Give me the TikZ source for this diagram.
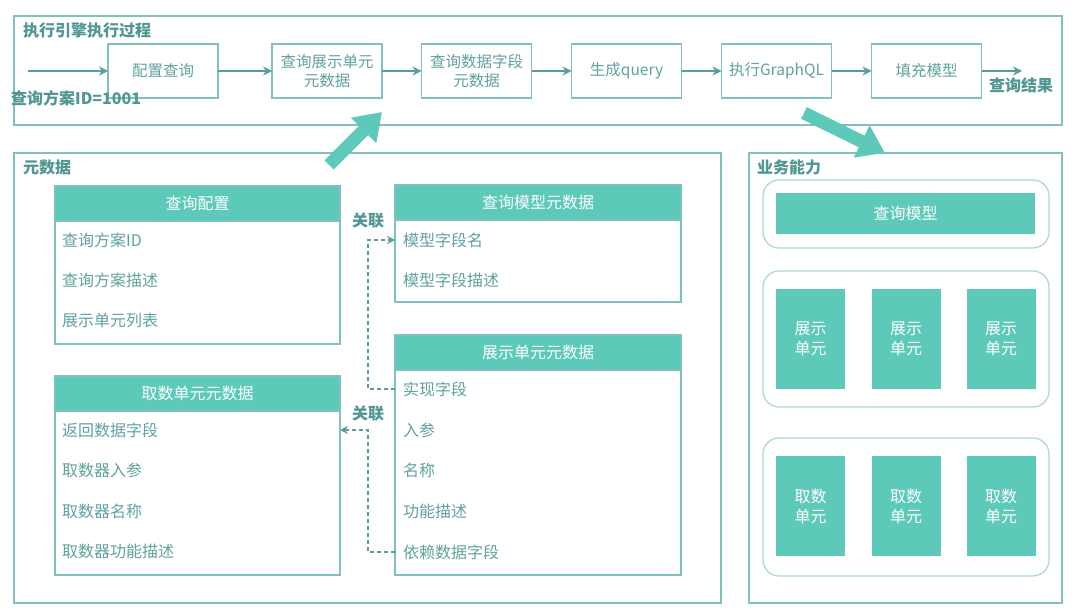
\documentclass[tikz,border=0pt]{standalone}
\usepackage{fontspec}
\setmainfont{Noto Sans CJK SC}
\usetikzlibrary{arrows.meta,positioning}
\definecolor{lc}{RGB}{128,192,189}
\definecolor{lc2}{RGB}{170,214,212}
\definecolor{tc}{RGB}{96,162,159}
\definecolor{ttl}{RGB}{80,150,147}
\definecolor{fc}{RGB}{92,201,185}
\definecolor{ac}{RGB}{88,158,155}
\begin{document}
\begin{tikzpicture}[x=1pt,y=-1pt,
  font=\fontsize{16}{19}\selectfont,
  frame/.style={draw=lc,line width=1.5pt},
  proc/.style={draw=lc,line width=1.3pt,minimum width=110pt,minimum height=54pt,inner sep=0pt,outer sep=0pt,text=tc,align=center,font=\fontsize{15.5}{18.5}\selectfont},
  flow/.style={draw=ac,line width=1.1pt,-{Stealth[length=9pt,width=9pt]}},
  hdr/.style={draw=lc,line width=1.2pt,fill=fc,text=white,inner sep=0pt,outer sep=0pt,minimum height=35pt},
  tbody/.style={draw=lc,line width=1.2pt,inner sep=0pt,outer sep=0pt},
  row/.style={anchor=west,text=tc,inner sep=0pt},
  ttlstyle/.style={anchor=west,text=ttl,font=\fontsize{16}{19}\selectfont\bfseries,inner sep=0pt},
  rel/.style={draw=ac,line width=1.1pt,dash pattern=on 4pt off 3pt},
  grp/.style={draw=lc2,line width=1.2pt,rounded corners=16pt},
  unit/.style={fill=fc,text=white,inner sep=0pt,align=center,font=\fontsize{16}{20}\selectfont},
  big/.style={draw=fc,line width=13pt,-{Triangle[length=26pt,width=34pt]}}
]
\useasboundingbox (0,0) rectangle (1080,615);
\fill[white] (0,0) rectangle (1080,615);

% ---------- top frame ----------
\draw[frame] (14,16) rectangle (1062,125);
\node[ttlstyle] (t1) at (23,30) {执行引擎执行过程};

\node[proc] (p1) at (163,71) {配置查询};
\node[proc] (p2) at (327,71) {查询展示单元\\元数据};
\node[proc] (p3) at (476.5,71) {查询数据字段\\元数据};
\node[proc] (p4) at (626.5,71) {生成query};
\node[proc] (p5) at (776.5,71) {执行GraphQL};
\node[proc] (p6) at (926.5,71) {填充模型};
\coordinate (st) at (28,71);
\coordinate (en) at (1022,71);
\draw[flow] (st) -- (p1);
\draw[flow] (p1) -- (p2);
\draw[flow] (p2) -- (p3);
\draw[flow] (p3) -- (p4);
\draw[flow] (p4) -- (p5);
\draw[flow] (p5) -- (p6);
\draw[flow] (p6) -- (en);
\node[ttlstyle] (idl) at (11,98) {查询方案ID=1001};
\node[ttlstyle] (res) at (989,85) {查询结果};

% ---------- metadata frame ----------
\draw[frame] (14,153) rectangle (721,603);
\node[ttlstyle] (t2) at (23,167) {元数据};

% 查询配置
\node[hdr,minimum width=285pt] (qch) at (197.5,203.5) {查询配置};
\node[tbody,minimum width=285pt,minimum height=123pt,below=0pt of qch] (qcb) {};
\node[row] (qc1) at (62,240) {查询方案ID};
\node[row] (qc2) at (62,280) {查询方案描述};
\node[row] (qc3) at (62,320) {展示单元列表};

% 查询模型元数据
\node[hdr,minimum width=286pt] (mh) at (538,202.5) {查询模型元数据};
\node[tbody,minimum width=286pt,minimum height=82pt,below=0pt of mh] (mb) {};
\node[row] (m1) at (403,240) {模型字段名};
\node[row] (m2) at (403,280) {模型字段描述};

% 展示单元元数据
\node[hdr,minimum width=286pt] (sh) at (538,352.5) {展示单元元数据};
\node[tbody,minimum width=286pt,minimum height=205pt,below=0pt of sh] (sb) {};
\node[row] (s1) at (403,389) {实现字段};
\node[row] (s2) at (403,430) {入参};
\node[row] (s3) at (403,470) {名称};
\node[row] (s4) at (403,511) {功能描述};
\node[row] (s5) at (403,552) {依赖数据字段};

% 取数单元元数据
\node[hdr,minimum width=285pt] (fh) at (197.5,393.5) {取数单元元数据};
\node[tbody,minimum width=285pt,minimum height=164pt,below=0pt of fh] (fb) {};
\node[row] (f1) at (62,430) {返回数据字段};
\node[row] (f2) at (62,470) {取数器入参};
\node[row] (f3) at (62,511) {取数器名称};
\node[row] (f4) at (62,551) {取数器功能描述};

% relations
\draw[rel,-{Stealth[length=8pt,width=8pt]}] (s1 -| sb.west) -- ++(-27,0) |- (m1 -| mb.west);
\draw[rel,-{Stealth[length=8pt,width=8pt]}] (s5 -| sb.west) -- ++(-27,0) |- (f1 -| fb.east);
\node[ttlstyle,anchor=center] (r1) at (368,221) {关联};
\node[ttlstyle,anchor=center] (r2) at (368,414) {关联};

% ---------- business frame ----------
\draw[frame] (749,153) rectangle (1062,603);
\node[ttlstyle] (t3) at (757,167) {业务能力};

\node[grp,minimum width=286pt,minimum height=68pt] (g1) at (906,214) {};
\node[unit,minimum width=259pt,minimum height=41pt] (qm) at (905.5,213.5) {查询模型};

\node[grp,minimum width=286pt,minimum height=136pt] (g2) at (906,339) {};
\node[unit,minimum width=69pt,minimum height=100pt] (u1) at (810.5,339) {展示\\单元};
\node[unit,minimum width=69pt,minimum height=100pt] (u2) at (906,339) {展示\\单元};
\node[unit,minimum width=69pt,minimum height=100pt] (u3) at (1001,339) {展示\\单元};

\node[grp,minimum width=286pt,minimum height=138pt] (g3) at (906,507) {};
\node[unit,minimum width=69pt,minimum height=100pt] (d1) at (810.5,506) {取数\\单元};
\node[unit,minimum width=69pt,minimum height=100pt] (d2) at (906,506) {取数\\单元};
\node[unit,minimum width=69pt,minimum height=100pt] (d3) at (1001,506) {取数\\单元};

% ---------- big arrows ----------
\coordinate (a1s) at (329,165);
\coordinate (a1e) at (382,112);
\coordinate (a2s) at (804,113);
\coordinate (a2e) at (885,153);
\draw[big] (a1s) -- (a1e);
\draw[big] (a2s) -- (a2e);
\end{tikzpicture}
\end{document}
